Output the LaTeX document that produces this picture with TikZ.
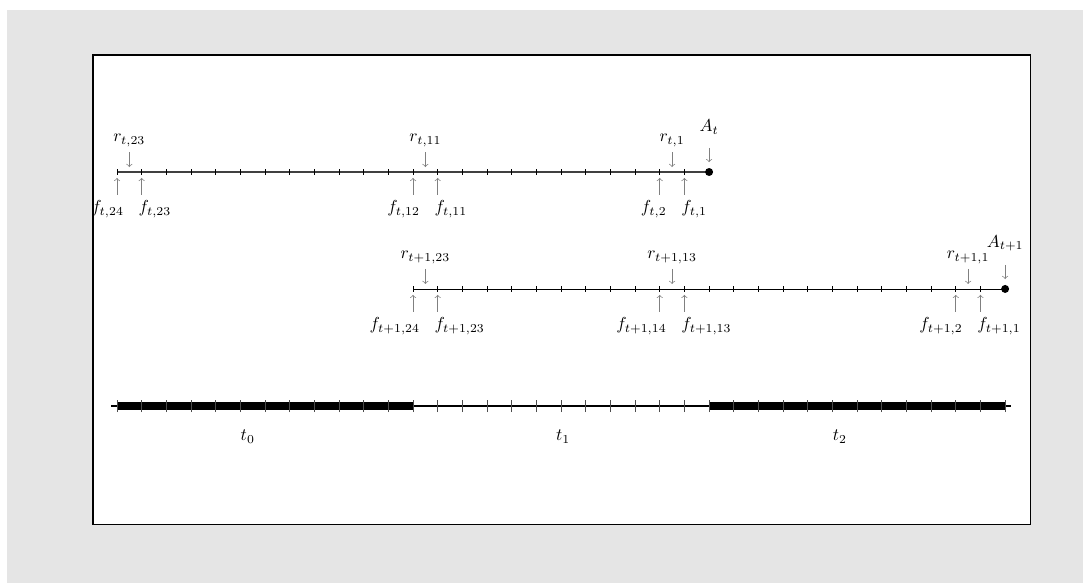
\documentclass[tikz,border=0pt]{standalone}
\usepackage{amssymb,amsmath}
\usetikzlibrary{positioning,arrows.meta}

\begin{document}
\begin{tikzpicture}[
    x = 0.5cm,
    y = 0.5cm,
    axis/.style={
        draw = black,
        line width = 0.5pt
    },
    tick/.style={
        draw = black,
        line width = 0.4pt
    },
    period/.style={
        draw = black,
        line width = 4.7pt
    },
    lbl/.style={
        inner sep = 3pt
    },
    pointer/.style={
        ->,
        draw = gray,
        line width = 0.4pt
    },
    >=to
]

\useasboundingbox (-4.743,-16.66) rectangle (39.157,6.972);
\fill[gray!20] (-4.459,-16.66) rectangle (39.157,6.567);
\draw[fill=white, line width=0.6pt] (-0.973,-14.27) rectangle (37.01,4.743);

% period t
\coordinate (a0) at (0,0);
\coordinate (a24) at (24,0);
\draw[axis, draw=black!75, line width=0.8pt] (a0) -- (a24);
\foreach \ai in {0,...,23}
    \draw[tick] (\ai,-0.12) -- (\ai,0.12);
\fill (a24) circle (2.3pt);

\foreach \xp/\k/\side/\dx in {0/24/north east/0.5, 1/23/north west/-0.35, 12/12/north east/0.5, 13/11/north west/-0.35, 22/2/north east/0.5, 23/1/north west/-0.35}
{
    \coordinate (ft-\k) at (\xp,-0.24);
    \node[lbl, anchor=\side] (ftl-\k) at (\xp+\dx,-0.93) {$f_{t,\k}$};
    \draw[pointer] (ftl-\k.north -| ft-\k) -- (ft-\k);
}
\foreach \xp/\k in {0.5/23, 12.5/11, 22.5/1}
{
    \coordinate (rt-\k) at (\xp,0.2);
    \node[lbl, anchor=south] (rtl-\k) at (\xp,0.81) {$r_{t,\k}$};
    \draw[pointer] (rtl-\k) -- (rt-\k);
}
\coordinate (at) at (24,0.4);
\node[lbl, anchor=south] (atl) at (24,1.3) {$A_t$};
\draw[pointer, shorten <=0.16cm] (atl) -- (at);

% period t+1
\coordinate (b12) at (12,-4.74);
\coordinate (b36) at (36,-4.74);
\draw[axis] (b12) -- (b36);
\foreach \ai in {12,...,35}
    \draw[tick] (\ai,-4.86) -- (\ai,-4.62);
\fill (b36) circle (2.3pt);

\foreach \xp/\k/\side/\dx in {12/24/north east/0.5, 13/23/north west/-0.35, 22/14/north east/0.5, 23/13/north west/-0.35, 34/2/north east/0.5, 35/1/north west/-0.35}
{
    \coordinate (fs-\k) at (\xp,-4.98);
    \node[lbl, anchor=\side] (fsl-\k) at (\xp+\dx,-5.67) {$f_{t+1,\k}$};
    \draw[pointer] (fsl-\k.north -| fs-\k) -- (fs-\k);
}
\foreach \xp/\k in {12.5/23, 22.5/13, 34.5/1}
{
    \coordinate (rs-\k) at (\xp,-4.54);
    \node[lbl, anchor=south] (rsl-\k) at (\xp,-3.93) {$r_{t+1,\k}$};
    \draw[pointer] (rsl-\k) -- (rs-\k);
}
\coordinate (as) at (36,-4.34);
\node[lbl, anchor=south] (asl) at (36,-3.44) {$A_{t+1}$};
\draw[pointer, shorten <=0.16cm] (asl) -- (as);

% periods
\coordinate (c0) at (-0.24,-9.49);
\coordinate (c1) at (36.24,-9.49);
\draw[axis, line width=0.8pt] (c0) -- (c1);
\draw[period] (0,-9.49) -- (12,-9.49);
\draw[period] (24,-9.49) -- (36,-9.49);
\foreach \ai in {0,...,36}
    \draw[tick, draw=black!70] (\ai,-9.73) -- (\ai,-9.25);
\node (t0) at (5.3,-10.72) {$t_0$};
\node (t1) at (18.08,-10.72) {$t_1$};
\node (t2) at (29.3,-10.72) {$t_2$};

\end{tikzpicture}
\end{document}
